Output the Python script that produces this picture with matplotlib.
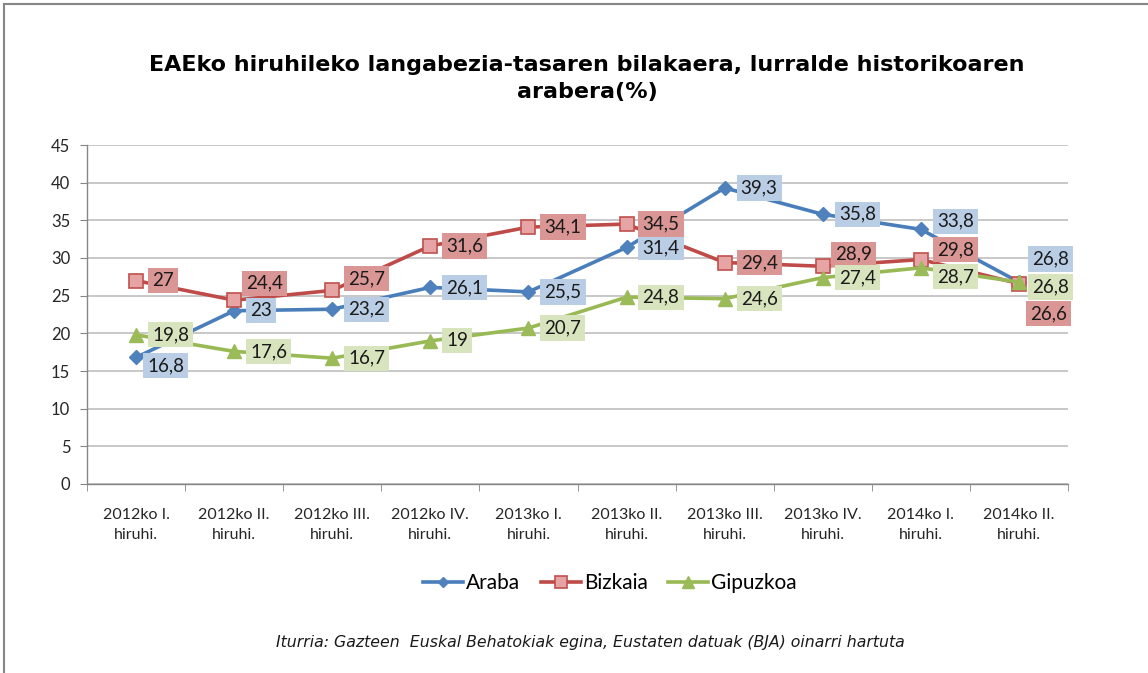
import matplotlib
matplotlib.use("Agg")
import matplotlib.pyplot as plt
from matplotlib.lines import Line2D

categories = ["2012ko I.\nhiruhi.", "2012ko II.\nhiruhi.", "2012ko III.\nhiruhi.",
              "2012ko IV.\nhiruhi.", "2013ko I.\nhiruhi.", "2013ko II.\nhiruhi.",
              "2013ko III.\nhiruhi.", "2013ko IV.\nhiruhi.", "2014ko I.\nhiruhi.",
              "2014ko II.\nhiruhi."]
araba = [16.8, 23, 23.2, 26.1, 25.5, 31.4, 39.3, 35.8, 33.8, 26.8]
bizkaia = [27, 24.4, 25.7, 31.6, 34.1, 34.5, 29.4, 28.9, 29.8, 26.6]
gipuzkoa = [19.8, 17.6, 16.7, 19, 20.7, 24.8, 24.6, 27.4, 28.7, 26.8]
yticks = list(range(0, 50, 5))

title = "EAEko hiruhileko langabezia-tasaren bilakaera, lurralde historikoaren\narabera(%)"
source = "Iturria: Gazteen  Euskal Behatokiak egina, Eustaten datuak (BJA) oinarri hartuta"

# label offsets (pixels) for data labels: default right of point
default_off = (16, 0)
araba_off = {0: (11, -8), 8: (16, 8), 9: (13, 23)}
bizkaia_off = {1: (12, 17), 2: (16, 12), 7: (12, 12), 8: (16, 10), 9: (11, -30)}
gipuzkoa_off = {8: (16, -9), 9: (13, -5)}

LATO = ["Lato", "DejaVu Sans"]

fig = plt.figure(figsize=(11.48, 6.73), dpi=100)
ax = fig.add_axes([87/1148, 1-484/673, (1068-87)/1148, (484-145)/673])

x = list(range(len(categories)))
series = [
    ("Araba", araba, dict(color="#4A7EBB", marker="D", markersize=7,
                          markerfacecolor="#4F81BD", markeredgecolor="#4F81BD"),
     "#B9CDE5", araba_off),
    ("Bizkaia", bizkaia, dict(color="#BE4B48", marker="s", markersize=10,
                              markerfacecolor="#E6A5A4", markeredgecolor="#C0504D",
                              markeredgewidth=1.2),
     "#DA9694", bizkaia_off),
    ("Gipuzkoa", gipuzkoa, dict(color="#98B954", marker="^", markersize=10,
                                markerfacecolor="#9BBB59", markeredgecolor="#9BBB59"),
     "#D7E4BD", gipuzkoa_off),
]

for name, vals, style, bg, offs in series:
    ax.plot(x, vals, linewidth=2.6, label=name, zorder=3, **style)

for name, vals, style, bg, offs in series:
    for i, v in enumerate(vals):
        dx, dy = offs.get(i, default_off)
        ax.annotate(f"{v:g}".replace(".", ","), (i, v), xytext=(dx, dy),
                    textcoords="offset pixels", ha="left", va="center",
                    fontsize=13.5, family=LATO, color="#1a1a1a", zorder=5,
                    bbox=dict(boxstyle="square,pad=0.22", fc=bg, ec="none"))

ax.set_xlim(-0.5, len(categories) - 0.5)
ax.set_ylim(0, 45)
ax.set_yticks(yticks)
ax.set_yticklabels([str(t) for t in yticks], family=LATO, fontsize=12, color="#262626")
ax.set_xticks(x)
ax.set_xticklabels(categories, family=LATO, fontsize=11.5, color="#262626", linespacing=1.55)
ax.set_xticks([i - 0.5 for i in range(len(categories) + 1)], minor=True)
ax.tick_params(axis="x", which="major", length=0, pad=17)
ax.tick_params(axis="x", which="minor", length=5, color="#868686", direction="out")
ax.tick_params(axis="y", length=5, color="#868686", direction="out", pad=7)

ax.grid(axis="y", color="#BFBFBF", linewidth=1.2, zorder=0)
ax.set_axisbelow(True)
for s in ["top", "right"]:
    ax.spines[s].set_visible(False)
for s in ["left", "bottom"]:
    ax.spines[s].set_color("#868686")
    ax.spines[s].set_linewidth(1.0)

fig.text(587/1148, 1-78.5/673, title, ha="center", va="center", fontsize=16,
         fontweight="bold", family="DejaVu Sans", linespacing=1.42)

leg = fig.legend(loc="center", bbox_to_anchor=(610/1148, 1-583/673), ncol=3,
                 frameon=False, prop={"family": "Lato", "size": 15},
                 handlelength=1.9, columnspacing=1.0, handletextpad=0.15,
                 markerscale=0.8)

fig.text(590/1148, 1-643/673, source, ha="center", va="center", fontsize=11.3,
         style="italic", family="DejaVu Sans", color="#1a1a1a")

# chart border (left and top visible)
fig.add_artist(Line2D([4/1148, 4/1148], [0, 1-4/673], color="#868686", linewidth=1.5,
                      transform=fig.transFigure))
fig.add_artist(Line2D([4/1148, 1], [1-4/673, 1-4/673], color="#868686", linewidth=1.5,
                      transform=fig.transFigure))

fig.savefig("out.png", dpi=100)
